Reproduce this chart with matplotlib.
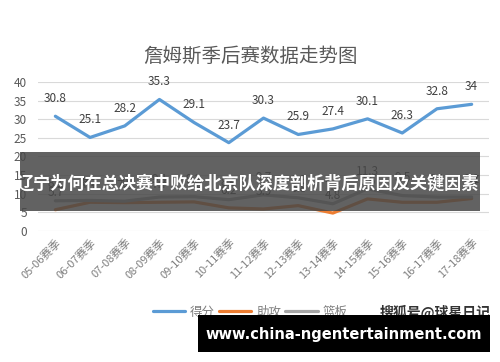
import matplotlib
matplotlib.use("Agg")
import matplotlib.pyplot as plt
from matplotlib.patches import Rectangle

plt.rcParams["font.family"] = ["Noto Sans CJK SC", "DejaVu Sans"]

seasons = ["05-06赛季", "06-07赛季", "07-08赛季", "08-09赛季", "09-10赛季", "10-11赛季",
           "11-12赛季", "12-13赛季", "13-14赛季", "14-15赛季", "15-16赛季", "16-17赛季", "17-18赛季"]
points = [30.8, 25.1, 28.2, 35.3, 29.1, 23.7, 30.3, 25.9, 27.4, 30.1, 26.3, 32.8, 34]
assists = [5.7, 7.7, 7.6, 7.7, 7.8, 6.2, 5.9, 6.8, 4.8, 8.6, 7.7, 7.7, 8.7]
rebounds = [8.1, 8.2, 8.0, 9.1, 9.2, 8.4, 9.7, 8.9, 7.3, 11.3, 9.5, 9.1, 9.1]
series_names = ["得分", "助攻", "篮板"]
y_ticks = [0, 5, 10, 15, 20, 25, 30, 35, 40]

colors = ["#5B9BD5", "#ED7D31", "#A5A5A5"]
label_color = "#404040"
axis_text = "#595959"

fig = plt.figure(figsize=(5, 3.62), dpi=100)
ax = fig.add_axes([0.076, 0.362, 0.902, 0.4116])

x = list(range(len(seasons)))
for values, name, color in zip([points, assists, rebounds], series_names, colors):
    ax.plot(x, values, color=color, linewidth=2.3, label=name, solid_capstyle="round")
    for xi, v in zip(x, values):
        ax.annotate(f"{v:g}", (xi, v), xytext=(0, 8), textcoords="offset points",
                    ha="center", va="bottom", fontsize=8.5, color=label_color)

ax.set_xlim(-0.5, len(seasons) - 0.5)
ax.set_ylim(0, 40)
ax.set_yticks(y_ticks)
ax.grid(axis="y", color="#D9D9D9", linewidth=0.8)
ax.set_axisbelow(True)
for s in ["top", "right", "left", "bottom"]:
    ax.spines[s].set_visible(False)
ax.tick_params(axis="both", length=0, colors=axis_text, labelsize=8.5, pad=8)
ax.set_xticks(x)
ax.set_xticklabels(seasons, rotation=45, ha="right", va="top", rotation_mode="anchor",
                   fontsize=8, color="#7F7F7F")
ax.tick_params(axis="x", pad=4)

fig.text(0.5, 0.846, "詹姆斯季后赛数据走势图", ha="center", va="center",
         fontsize=14, color=axis_text)

ax.legend(loc="center", bbox_to_anchor=(0.5, 0.138), bbox_transform=fig.transFigure,
          ncol=3, frameon=False, fontsize=9, handlelength=2.6, handletextpad=0.4,
          columnspacing=0.3, labelcolor="#7F7F7F")

fig.text(0.87, 0.138, "搜狐号@球星日记", ha="center", va="center", fontsize=10,
         color="#333333", fontweight="bold")

# overlay banners
fig.patches.append(Rectangle((0.04, 0.417), 0.92, 0.163, transform=fig.transFigure,
                             facecolor="#474747", alpha=0.85, edgecolor="none", zorder=5))
fig.text(0.495, 0.492, "辽宁为何在总决赛中败给北京队深度剖析背后原因及关键因素",
         ha="center", va="center", fontsize=12.3, color="white", fontweight="bold", zorder=6)

fig.patches.append(Rectangle((0.396, 0.028), 0.584, 0.102, transform=fig.transFigure,
                             facecolor="black", edgecolor="none", zorder=5))
fig.text(0.688, 0.077, "www.china-ngentertainment.com", ha="center", va="center",
         fontsize=10.5, color="white", fontweight="bold", family="DejaVu Sans", zorder=6)

fig.savefig("out.png", dpi=100)
